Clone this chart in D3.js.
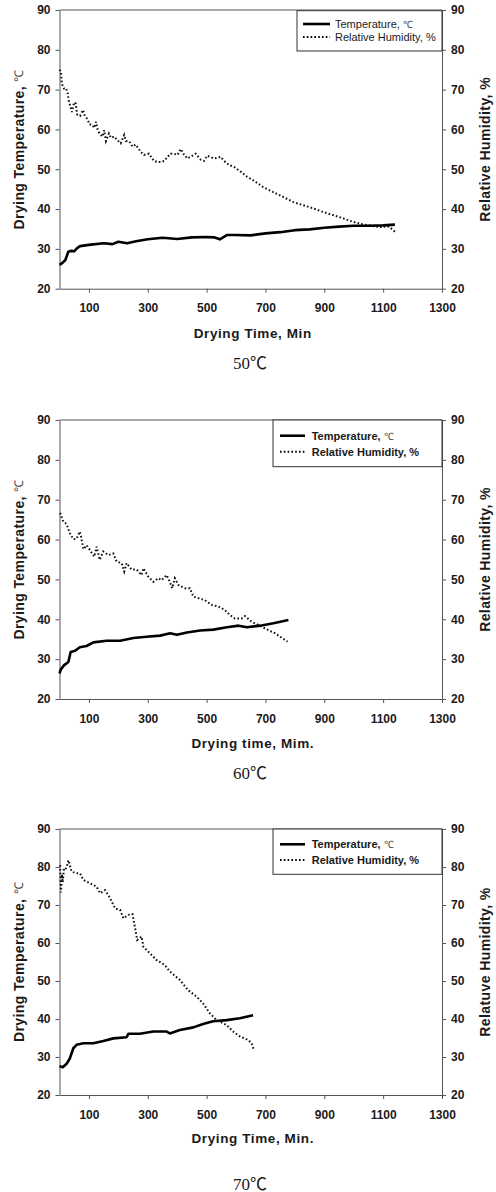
<!DOCTYPE html>
<html>
<head>
<meta charset="utf-8">
<script src="https://cdn.jsdelivr.net/npm/d3@7"></script>
<style>
  body { margin: 0; background: #fff; }
  text { font-family: "Liberation Sans", Arial, sans-serif; fill: #1a1a1a; }
</style>
</head>
<body>
<div id="chart"></div>
<script>
// tick labels shared by the three panels
const xTicks = [100, 300, 500, 700, 900, 1100, 1300];
const yTicks = [20, 30, 40, 50, 60, 70, 80, 90];

// 50 C run
const tempTime50 = [0, 10, 20, 30, 40, 50, 60, 70, 100, 150, 180, 200, 230, 260, 300, 350, 400, 450, 500, 525, 545, 570, 600, 650, 700, 750, 800, 850, 900, 950, 1000, 1050, 1100, 1140];
const temp50 = [26, 26.5, 27.2, 29.3, 29.5, 29.4, 30.2, 30.7, 31.0, 31.4, 31.2, 31.8, 31.4, 31.9, 32.4, 32.8, 32.5, 32.9, 33.0, 32.9, 32.4, 33.5, 33.5, 33.4, 33.9, 34.2, 34.7, 34.9, 35.3, 35.6, 35.8, 35.8, 35.9, 36.1];
const rhTime50 = [0, 5, 8, 15, 22, 28, 32, 38, 42, 50, 55, 60, 70, 80, 85, 95, 102, 112, 118, 124, 130, 136, 146, 152, 158, 168, 175, 186, 197, 208, 220, 226, 237, 248, 259, 276, 287, 304, 321, 333, 344, 356, 367, 378, 389, 401, 412, 423, 435, 463, 480, 491, 502, 525, 548, 559, 576, 593, 616, 638, 657, 691, 725, 759, 793, 827, 861, 895, 929, 963, 997, 1030, 1060, 1090, 1120, 1140];
const rh50 = [75, 74.5, 71.5, 70.3, 70.4, 69, 67, 65.5, 64.4, 66.8, 66.5, 63.8, 63.4, 64.9, 63.6, 62.6, 61.3, 61.1, 60.4, 61.9, 59.8, 59, 58.2, 59.8, 57.1, 59, 57.9, 58.2, 57.3, 56.5, 58.6, 57.1, 57, 55.7, 56.2, 54.4, 53.6, 53.9, 52.1, 51.8, 51.8, 52.1, 53.1, 53.9, 53.9, 53.6, 55.1, 53.7, 52.7, 53.9, 52.4, 52.1, 53.4, 52.7, 53.1, 52.1, 51.1, 50.6, 49.4, 48.1, 47.3, 45.6, 44.3, 43.1, 41.8, 41, 40.2, 39.3, 38.5, 37.7, 36.8, 36.2, 35.8, 35.5, 35.6, 34.3];

// 60 C run
const tempTime60 = [0, 5, 16, 30, 38, 53, 69, 92, 115, 160, 206, 251, 296, 342, 376, 399, 433, 478, 523, 569, 609, 637, 682, 727, 778];
const temp60 = [26.4, 27.5, 28.5, 29.3, 31.8, 32.1, 33, 33.3, 34.2, 34.6, 34.6, 35.3, 35.6, 35.9, 36.5, 36.1, 36.7, 37.2, 37.4, 38, 38.4, 38, 38.4, 39, 39.8];
const rhTime60 = [2, 13, 24, 35, 47, 58, 69, 73, 81, 92, 103, 118, 126, 137, 149, 166, 183, 194, 211, 220, 228, 245, 262, 279, 285, 302, 319, 336, 347, 364, 375, 383, 392, 404, 426, 443, 455, 472, 494, 517, 540, 562, 579, 596, 619, 630, 653, 675, 698, 732, 775];
const rh60 = [66.7, 64.5, 63.9, 61.6, 60.1, 60.2, 62, 60.9, 57.6, 58.6, 57.4, 55.7, 58.2, 54.9, 57, 56.1, 56.5, 54.5, 54.1, 52, 54.1, 52.5, 52.5, 51.1, 52.8, 50.7, 49.4, 50.3, 49.8, 51.1, 49.4, 47.8, 50.3, 48.6, 47.8, 47.8, 45.7, 45.3, 44.8, 43.6, 43.2, 42.3, 41.1, 40.2, 40.2, 40.8, 39.4, 38.6, 37.7, 36.5, 34.4];

// 70 C run
const tempTime70 = [0, 11, 24, 35, 47, 58, 81, 115, 149, 183, 228, 234, 273, 319, 364, 375, 409, 455, 488, 522, 568, 613, 658];
const temp70 = [27.6, 27.3, 28.2, 29.6, 32.3, 33.2, 33.6, 33.6, 34.2, 34.9, 35.2, 36.1, 36.1, 36.7, 36.7, 36.2, 37.1, 37.8, 38.7, 39.4, 39.7, 40.2, 41];
const rhTime70 = [2, 5, 8, 11, 15, 20, 25, 30, 35, 41, 55, 70, 81, 104, 126, 138, 155, 172, 189, 206, 217, 234, 248, 256, 264, 279, 285, 307, 330, 358, 375, 409, 437, 466, 488, 511, 534, 568, 590, 613, 641, 653, 661];
const rh70 = [80.5, 73.3, 78, 76, 79.5, 79.3, 80.2, 81.8, 80.5, 78.8, 78.4, 78.3, 76.6, 75.7, 74.8, 73.1, 73.9, 71.8, 69.1, 68.7, 66.5, 67.4, 67.6, 64.3, 60.8, 61.7, 59, 57.3, 55.5, 54.2, 52.5, 50.3, 47.6, 45.9, 44.1, 41.5, 39.7, 38.4, 36.7, 35.4, 34.5, 33.6, 31.8];

const W = 496, H = 1192;
const svg = d3.select("#chart").append("svg")
    .attr("width", W)
    .attr("height", H);

const left = 59.5, right = 442;

function drawPanel(p) {
    const g = svg.append("g");
    const x = d3.scaleLinear().domain([0, 1300]).range([left, right]);
    const y = d3.scaleLinear().domain([20, 90]).range([p.bottom, p.top]);

    // frame: top border
    g.append("line")
        .attr("x1", left).attr("x2", right)
        .attr("y1", p.top).attr("y2", p.top)
        .attr("stroke", "#555").attr("stroke-width", 1);

    // axes
    const ax = g.append("g")
        .attr("transform", `translate(0,${p.bottom})`)
        .call(d3.axisBottom(x).tickValues(xTicks).tickFormat(d3.format("d")).tickSize(4).tickSizeOuter(0).tickPadding(p.tickPad));
    const ayl = g.append("g")
        .attr("transform", `translate(${left},0)`)
        .call(d3.axisLeft(y).tickValues(yTicks).tickSize(4).tickSizeOuter(0).tickPadding(5));
    const ayr = g.append("g")
        .attr("transform", `translate(${right},0)`)
        .call(d3.axisRight(y).tickValues(yTicks).tickSize(4).tickSizeOuter(0).tickPadding(5));
    [ax, ayl, ayr].forEach(a => {
        a.selectAll(".domain").attr("stroke", "#555");
        a.selectAll(".tick line").attr("stroke", "#555");
        a.selectAll("text")
            .style("font-family", "'Liberation Sans', Arial, sans-serif")
            .style("font-size", "12px")
            .style("font-weight", "bold")
            .attr("fill", "#1a1a1a");
    });

    // series
    const line = d3.line().x(d => x(d[0])).y(d => y(d[1]));
    g.append("path")
        .datum(p.rhTime.map((t, i) => [t, p.rh[i]]))
        .attr("fill", "none")
        .attr("stroke", "#111")
        .attr("stroke-width", 2)
        .attr("stroke-dasharray", "1.6,2.2")
        .attr("d", line);
    g.append("path")
        .datum(p.tempTime.map((t, i) => [t, p.temp[i]]))
        .attr("fill", "none")
        .attr("stroke", "#000")
        .attr("stroke-width", 2.6)
        .attr("stroke-linejoin", "round")
        .attr("d", line);

    // legend
    const lg = p.legend;
    g.append("rect")
        .attr("x", lg.x).attr("y", lg.y)
        .attr("width", right - lg.x).attr("height", lg.h)
        .attr("fill", "#fff").attr("stroke", "#333").attr("stroke-width", 1);
    const items = [
        {label: "Temperature, ", unit: "℃", dash: null, sw: 2.6},
        {label: "Relative Humidity, %", unit: "", dash: "1.6,2.2", sw: 2}
    ];
    items.forEach((it, i) => {
        const yy = lg.rows[i];
        g.append("line")
            .attr("x1", lg.lx1).attr("x2", lg.lx2)
            .attr("y1", yy).attr("y2", yy)
            .attr("stroke", "#000")
            .attr("stroke-width", it.sw)
            .attr("stroke-dasharray", it.dash);
        const t = g.append("text")
            .attr("x", lg.tx).attr("y", yy)
            .attr("dominant-baseline", "central")
            .style("font-size", "11px")
            .style("font-weight", lg.bold ? "bold" : "normal")
            .text(it.label);
        if (it.unit) {
            t.append("tspan")
                .style("font-weight", "normal")
                .style("font-size", "10px")
                .attr("fill", "#444")
                .text(it.unit);
        }
    });

    // axis titles
    g.append("text")
        .attr("x", (left + right) / 2 + 2).attr("y", p.titleY)
        .attr("text-anchor", "middle")
        .attr("dominant-baseline", "central")
        .style("font-size", "13.5px")
        .style("font-weight", "bold")
        .style("letter-spacing", "0.6px")
        .text(p.xTitle);
    const mid = (p.top + p.bottom) / 2;
    const lt = g.append("text")
        .attr("transform", `translate(19,${mid}) rotate(-90)`)
        .attr("text-anchor", "middle")
        .attr("dominant-baseline", "central")
        .style("font-size", "14px")
        .style("font-weight", "bold")
        .style("letter-spacing", "0.4px")
        .text("Drying Temperature, ");
    lt.append("tspan")
        .style("font-weight", "normal")
        .style("font-size", "12px")
        .attr("fill", "#444")
        .text("℃");
    g.append("text")
        .attr("transform", `translate(485,${mid}) rotate(-90)`)
        .attr("text-anchor", "middle")
        .attr("dominant-baseline", "central")
        .style("font-size", "14px")
        .style("font-weight", "bold")
        .style("letter-spacing", "0.4px")
        .text(p.yRightTitle);

    // caption below the chart
    g.append("text")
        .attr("x", 250).attr("y", p.captionY)
        .attr("text-anchor", "middle")
        .attr("dominant-baseline", "central")
        .style("font-family", "'Liberation Serif', 'Noto Sans CJK KR', serif")
        .style("font-size", "17px")
        .attr("fill", "#333")
        .text(p.caption);
}

drawPanel({
    top: 10, bottom: 288.7, tickPad: 11, titleY: 333, captionY: 363,
    tempTime: tempTime50, temp: temp50, rhTime: rhTime50, rh: rh50,
    xTitle: "Drying Time, Min", yRightTitle: "Relative Humidity, %", caption: "50℃",
    legend: {x: 297, y: 10.7, h: 40.3, rows: [24, 37], lx1: 303, lx2: 330, tx: 335, bold: false}
});
drawPanel({
    top: 420, bottom: 699, tickPad: 11, titleY: 743, captionY: 773,
    tempTime: tempTime60, temp: temp60, rhTime: rhTime60, rh: rh60,
    xTitle: "Drying time, Mim.", yRightTitle: "Relative Humidity, %", caption: "60℃",
    legend: {x: 273, y: 420, h: 46.7, rows: [435.7, 451.7], lx1: 280, lx2: 305, tx: 311.7, bold: true}
});
drawPanel({
    top: 829, bottom: 1095, tickPad: 11, titleY: 1138, captionY: 1184,
    tempTime: tempTime70, temp: temp70, rhTime: rhTime70, rh: rh70,
    xTitle: "Drying Time, Min.", yRightTitle: "Relatuve Humidity, %", caption: "70℃",
    legend: {x: 273, y: 829, h: 45.3, rows: [844.3, 860], lx1: 280, lx2: 305, tx: 311.7, bold: true}
});
</script>
</body>
</html>
